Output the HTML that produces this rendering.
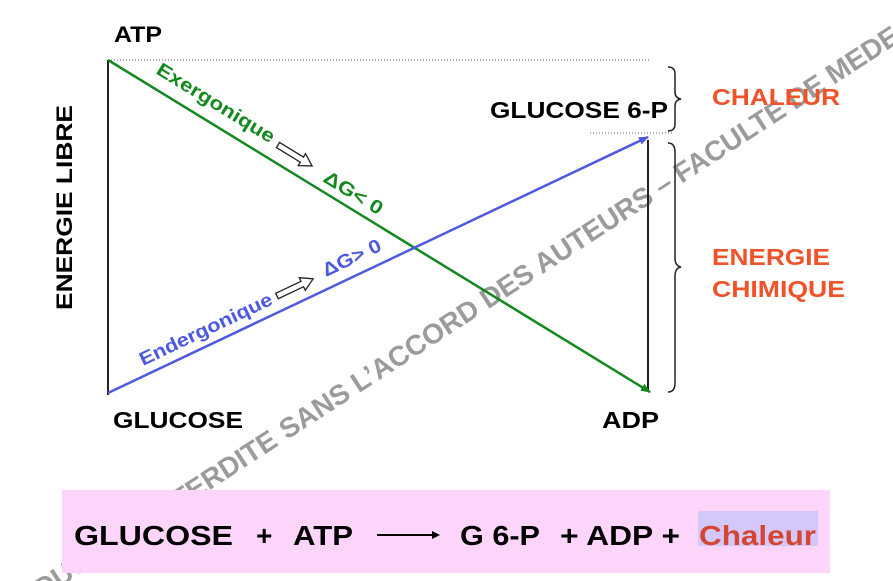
<!DOCTYPE html>
<html><head><meta charset="utf-8"><style>
html,body{margin:0;width:893px;height:581px;background:#fff;overflow:hidden;position:relative;font-family:"Liberation Sans",Arial,sans-serif}
svg{overflow:hidden}
</style></head><body>
<svg width="893" height="581" viewBox="0 0 893 581" style="position:absolute;left:0;top:0" font-family="Liberation Sans, Arial, sans-serif">
<defs>
<marker id="ag" markerWidth="10" markerHeight="8" refX="9" refY="4" orient="auto" markerUnits="userSpaceOnUse"><path d="M0,0 L10,4 L0,8 z" fill="#13891f"/></marker>
<marker id="ab" markerWidth="10" markerHeight="8" refX="9" refY="4" orient="auto" markerUnits="userSpaceOnUse"><path d="M0,0 L10,4 L0,8 z" fill="#4d5ae0"/></marker>
</defs>
<g transform="translate(287,440) rotate(-33)" font-size="28" font-weight="bold" fill="#8a8a8a" opacity="0.85">
<text x="-9" text-anchor="end">REPRODUCTION INTERDITE</text>
<text x="0">SANS L’ACCORD DES AUTEURS – FACULTE DE MEDECINE</text>
</g>
<line x1="108" y1="60" x2="650" y2="60" stroke="#666" stroke-width="1" stroke-dasharray="1,2"/>
<line x1="590" y1="133" x2="672" y2="133" stroke="#666" stroke-width="1" stroke-dasharray="1,2"/>
<line x1="108" y1="60" x2="108" y2="395" stroke="#222" stroke-width="2"/>
<line x1="648" y1="140" x2="648" y2="392" stroke="#222" stroke-width="2"/>
<line x1="108" y1="60" x2="650" y2="392" stroke="#13891f" stroke-width="2.5" marker-end="url(#ag)"/>
<line x1="108" y1="393" x2="648" y2="137" stroke="#4d5ae0" stroke-width="2.5" marker-end="url(#ab)"/>
<path d="M668,67 Q675,67 675,74 L675,92 Q675,98 681,99 Q675,100 675,106 L675,124 Q675,131 668,131" fill="none" stroke="#222" stroke-width="1.5"/>
<path d="M668,143 Q675,143 675,152 L675,258 Q675,266 681,267 Q675,268 675,276 L675,383 Q675,392 668,392" fill="none" stroke="#222" stroke-width="1.5"/>
<text x="114" y="42" font-size="22" font-weight="bold" textLength="48" lengthAdjust="spacingAndGlyphs">ATP</text>
<text x="113" y="428" font-size="23" font-weight="bold" textLength="130" lengthAdjust="spacingAndGlyphs">GLUCOSE</text>
<text x="602" y="428" font-size="23" font-weight="bold" textLength="57" lengthAdjust="spacingAndGlyphs">ADP</text>
<text x="490" y="118" font-size="23" font-weight="bold" textLength="178" lengthAdjust="spacingAndGlyphs">GLUCOSE 6-P</text>
<text transform="translate(72,310) rotate(-90)" font-size="22" font-weight="bold" textLength="205" lengthAdjust="spacingAndGlyphs">ENERGIE LIBRE</text>
<text x="712" y="105" font-size="23" font-weight="bold" fill="#f0532a" textLength="128" lengthAdjust="spacingAndGlyphs">CHALEUR</text>
<text x="712" y="265" font-size="23" font-weight="bold" fill="#f0532a" textLength="118" lengthAdjust="spacingAndGlyphs">ENERGIE</text>
<text x="712" y="297" font-size="23" font-weight="bold" fill="#f0532a" textLength="133" lengthAdjust="spacingAndGlyphs">CHIMIQUE</text>
<text transform="translate(155,73) rotate(31.5)" font-size="19" font-weight="bold" fill="#13891f" textLength="135" lengthAdjust="spacingAndGlyphs">Exergonique</text>
<text transform="translate(322,181) rotate(31.5)" font-size="19" font-weight="bold" fill="#13891f" textLength="66" lengthAdjust="spacingAndGlyphs">ΔG&lt; 0</text>
<text transform="translate(143,366) rotate(-25.4)" font-size="19" font-weight="bold" fill="#4d5ae0" textLength="145" lengthAdjust="spacingAndGlyphs">Endergonique</text>
<text transform="translate(326,277) rotate(-25.4)" font-size="19" font-weight="bold" fill="#4d5ae0" textLength="63" lengthAdjust="spacingAndGlyphs">ΔG&gt; 0</text>
<g transform="translate(278,145) rotate(31.5)"><path d="M0,-3 L28,-3 L28,-7 L40,0 L28,7 L28,3 L0,3 z" fill="#fff" stroke="#222" stroke-width="1.3"/></g>
<g transform="translate(277,296) rotate(-25.4)"><path d="M0,-3 L28,-3 L28,-7 L40,0 L28,7 L28,3 L0,3 z" fill="#fff" stroke="#222" stroke-width="1.3"/></g>
<rect x="62" y="490" width="768" height="83" fill="#fdd5fb"/>
<rect x="698" y="511" width="120" height="35" fill="#d4c8fb"/>
<text x="74" y="545" font-size="28" font-weight="bold" textLength="159" lengthAdjust="spacingAndGlyphs">GLUCOSE</text>
<text x="256" y="545" font-size="28" font-weight="bold">+</text>
<text x="293" y="545" font-size="28" font-weight="bold" textLength="60" lengthAdjust="spacingAndGlyphs">ATP</text>
<line x1="377" y1="535" x2="438" y2="535" stroke="#000" stroke-width="2"/>
<path d="M432,531 L440,535 L432,539 z" fill="#000"/>
<text x="460" y="545" font-size="28" font-weight="bold" textLength="80" lengthAdjust="spacingAndGlyphs">G 6-P</text>
<text x="560" y="545" font-size="28" font-weight="bold" textLength="120" lengthAdjust="spacingAndGlyphs">+ ADP +</text>
<text x="699" y="545" font-size="28" font-weight="bold" fill="#d64532" textLength="117" lengthAdjust="spacingAndGlyphs">Chaleur</text>
</svg>
</body></html>
